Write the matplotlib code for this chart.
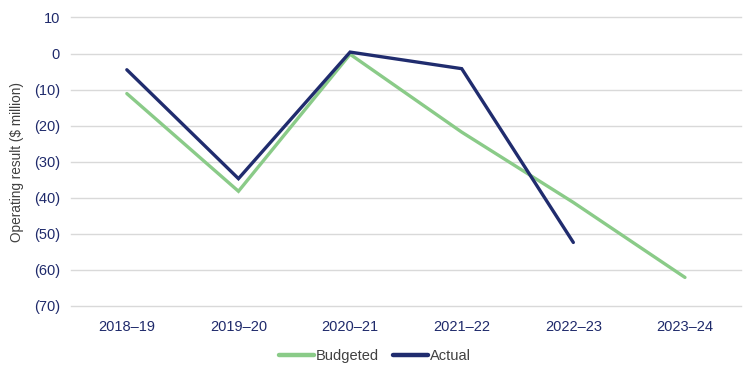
import matplotlib
matplotlib.use("Agg")
import matplotlib.pyplot as plt

categories = ["2018–19", "2019–20", "2020–21", "2021–22", "2022–23", "2023–24"]
budgeted = [-11.1, -38.2, -0.2, -21.8, -41.3, -62.1]
actual = [-4.5, -34.7, 0.4, -4.2, -52.4]
yticks = [10, 0, -10, -20, -30, -40, -50, -60, -70]
ytick_labels = ["10", "0", "(10)", "(20)", "(30)", "(40)", "(50)", "(60)", "(70)"]

plt.rcParams['font.family'] = ['Liberation Sans', 'DejaVu Sans']

green = "#8ACB88"
navy = "#202C6E"
tickc = "#1F2A6B"
gray = "#404040"

fig = plt.figure(figsize=(7.5, 3.8), dpi=100)
ax = fig.add_axes([0.0947, 0.195, 0.893, 0.759])

x = list(range(len(categories)))
ax.plot(x, budgeted, color=green, lw=2.4, label="Budgeted", solid_capstyle="round", solid_joinstyle="miter")
ax.plot(x[:len(actual)], actual, color=navy, lw=2.4, label="Actual", solid_capstyle="round", solid_joinstyle="miter")

ax.set_xlim(-0.5, len(categories) - 0.5)
ax.set_ylim(-70, 10)
ax.set_yticks(yticks)
ax.set_yticklabels(ytick_labels)
ax.set_xticks(x)
ax.set_xticklabels(categories)
ax.grid(axis="y", color="#D9D9D9", lw=1)
for gl in ax.yaxis.get_gridlines():
    gl.set_clip_on(False)
ax.set_axisbelow(True)
for s in ax.spines.values():
    s.set_visible(False)
ax.tick_params(axis="both", length=0, labelsize=10.5, colors=tickc)
ax.tick_params(axis="x", pad=10)
ax.tick_params(axis="y", pad=8)
ax.set_ylabel("Operating result ($ million)", fontsize=9.8, color=gray, labelpad=7)

leg = fig.legend(loc="center", bbox_to_anchor=(0.5, 0.063), ncol=2, frameon=False,
                 fontsize=10.5, handlelength=2.4, handletextpad=0.1, columnspacing=1.0)
for t in leg.get_texts():
    t.set_color(gray)
for h in leg.get_lines():
    h.set_linewidth(3.2)

fig.savefig("out.png", dpi=100)
